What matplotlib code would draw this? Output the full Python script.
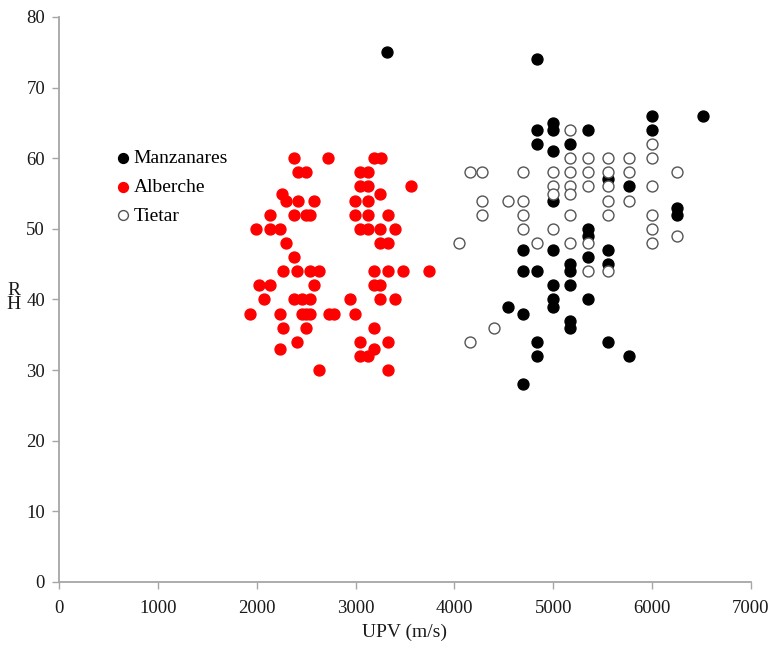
import matplotlib
matplotlib.use("Agg")
import matplotlib.pyplot as plt

plt.rcParams["font.family"] = ["Liberation Serif", "DejaVu Serif"]

# ── data (UPV in m/s, RH) ─────────────────────────────────────────────────────────
manz_upv = [3320, 4840, 6000, 6520, 4840, 5000, 5000, 5350, 6000, 4840, 5170, 5000,
            5550, 5770, 5000, 6250, 6250, 5350, 5350, 4690, 5000, 5550, 5350, 5170,
            5170, 5550, 4690, 4840, 5000, 5170, 5350, 5000, 5000, 4540, 4690, 5170,
            5170, 4840, 5550, 4840, 5770, 4690]
manz_rh = [75, 74, 66, 66, 64, 65, 64, 64, 64, 62, 62, 61,
           57, 56, 54, 53, 52, 50, 49, 47, 47, 47, 46, 45,
           44, 45, 44, 44, 42, 42, 40, 40, 39, 39, 38, 37,
           36, 34, 34, 32, 32, 28]

alb_upv = [2375, 2721, 3184, 3262,
           2420, 2494, 3050, 3124,
           3050, 3124, 3566,
           2261, 3252,
           2301, 2420, 2583, 2990, 3124,
           2130, 2375, 2494, 2540, 2990, 3124, 3326,
           1995, 2130, 2234, 3050, 3124, 3252, 3404,
           2301, 3252, 3326,
           2375,
           2270, 2410, 2540, 2628, 3184, 3326, 3482, 3748,
           2021, 2130, 2583, 3184, 3252,
           2079, 2375, 2460, 2540, 2939, 3252, 3404,
           1937, 2234, 2460, 2494, 2540, 2729, 2780, 2990,
           2270, 2494, 3184,
           2410, 3050, 3326,
           2234, 3184,
           3050, 3124,
           2628, 3326]
alb_rh = [60, 60, 60, 60,
          58, 58, 58, 58,
          56, 56, 56,
          55, 55,
          54, 54, 54, 54, 54,
          52, 52, 52, 52, 52, 52, 52,
          50, 50, 50, 50, 50, 50, 50,
          48, 48, 48,
          46,
          44, 44, 44, 44, 44, 44, 44, 44,
          42, 42, 42, 42, 42,
          40, 40, 40, 40, 40, 40, 40,
          38, 38, 38, 38, 38, 38, 38, 38,
          36, 36, 36,
          34, 34, 34,
          33, 33,
          32, 32,
          30, 30]

tiet_upv = [5170, 6000, 5170, 5350, 5550, 5770, 6000, 4160, 4280, 4690, 5000, 5170,
            5350, 5550, 5770, 6250, 5000, 5170, 5350, 5550, 6000, 5000, 5170, 4280,
            4540, 4690, 5550, 5770, 4280, 4690, 5170, 5550, 6000, 4690, 5000, 6000,
            6250, 4050, 4840, 5170, 5350, 6000, 5350, 5550, 4400, 4160]
tiet_rh = [64, 62, 60, 60, 60, 60, 60, 58, 58, 58, 58, 58,
           58, 58, 58, 58, 56, 56, 56, 56, 56, 55, 55, 54,
           54, 54, 54, 54, 52, 52, 52, 52, 52, 50, 50, 50,
           49, 48, 48, 48, 48, 48, 44, 44, 36, 34]

x_ticks = list(range(0, 7001, 1000))
y_ticks = list(range(0, 81, 10))

# ── figure ─────────────────────────────────────────────────────────────────────────
fig = plt.figure(figsize=(7.74, 6.51), dpi=100)
ax = fig.add_axes([0.0762, 0.106, 0.894, 0.868])

ms = 62
ax.scatter(manz_upv, manz_rh, s=ms, color="black", label="Manzanares", zorder=3)
ax.scatter(alb_upv, alb_rh, s=ms, color="#ff0000", label="Alberche", zorder=3)
ax.scatter(tiet_upv, tiet_rh, s=ms, facecolor="white", edgecolor="#555555",
           linewidths=1.0, label="Tietar", zorder=4)

ax.set_xlim(0, 7000)
ax.set_ylim(0, 80)
ax.set_xticks(x_ticks)
ax.set_yticks(y_ticks)

for side in ("top", "right"):
    ax.spines[side].set_visible(False)
for side in ("left", "bottom"):
    ax.spines[side].set_color("#a6a6a6")
    ax.spines[side].set_linewidth(1.3)
ax.tick_params(direction="out", length=5, width=1, color="#a6a6a6",
               labelsize=13.5, labelcolor="#1a1a1a", pad=5)
ax.tick_params(axis="x", pad=8)

ax.set_xlabel("UPV (m/s)", fontsize=14, color="#1a1a1a", labelpad=5)
# "R" stacked over "H" at the left edge, as in the reference
fig.text(0.018, 0.553, "R", fontsize=14, color="#1a1a1a", ha="center", va="center")
fig.text(0.018, 0.532, "H", fontsize=14, color="#1a1a1a", ha="center", va="center")

ax.legend(loc="upper left", bbox_to_anchor=(0.045, 0.79), frameon=False,
          fontsize=14, handletextpad=-0.45, labelspacing=0.58, markerscale=0.9,
          borderpad=0.2)

fig.savefig("out.png", dpi=100)
